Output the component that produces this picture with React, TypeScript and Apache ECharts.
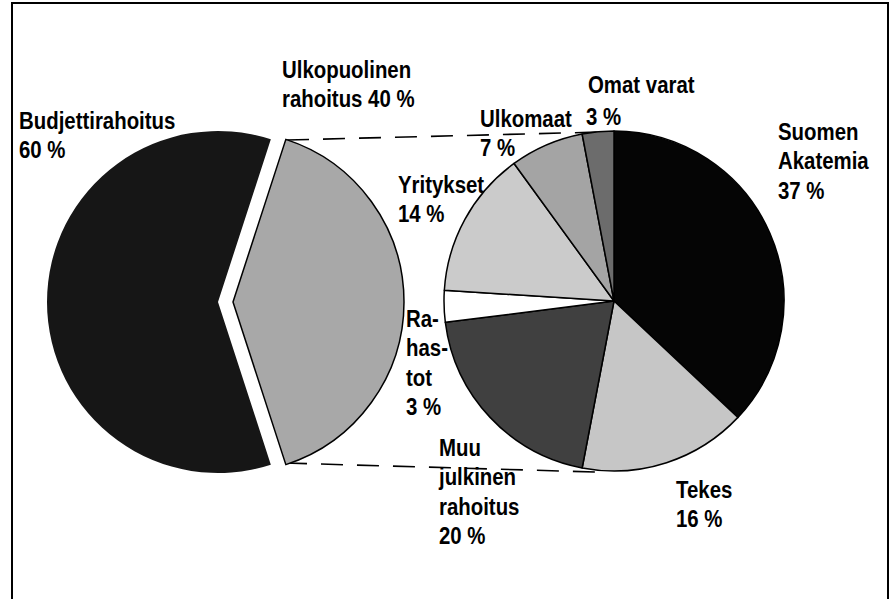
import React, { useEffect, useRef } from "react";
import * as echarts from "echarts";

// Left pie: budget vs external funding
const leftNames = ["Budjettirahoitus", "Ulkopuolinen rahoitus"];
const leftValues = [60, 40];
const leftColors = ["#161616", "#a8a8a8"];

// Right pie: breakdown of external funding (clockwise from 12 o'clock)
const rightNames = [
  "Suomen Akatemia",
  "Tekes",
  "Muu julkinen rahoitus",
  "Rahastot",
  "Yritykset",
  "Ulkomaat",
  "Omat varat",
];
const rightValues = [37, 16, 20, 3, 14, 7, 3];
const rightColors = ["#050505", "#c6c6c6", "#404040", "#ffffff", "#cbcbcb", "#a4a4a4", "#6c6c6c"];

// Label texts as printed (line breaks of the original)
const leftLabelNames = ["Budjettirahoitus\n", "Ulkopuolinen\nrahoitus "];
const rightLabelNames = [
  "Suomen\nAkatemia\n",
  "Tekes\n",
  "Muu\njulkinen\nrahoitus\n",
  "Ra-\nhas-\ntot\n",
  "Yritykset\n",
  "Ulkomaat\n",
  "Omat varat",
];

const FONT = "'Liberation Sans', Arial, sans-serif";
const FS = 24;
const LH = 29.5;
const CONDENSE = 0.85;

export default function App() {
  const ref = useRef<HTMLDivElement>(null);

  useEffect(() => {
    document.body.style.margin = "0";
    if (!ref.current) return;
    const chart = echarts.init(ref.current, undefined, { renderer: "svg" });

    const R_LEFT = 171;
    const R_RIGHT = 170;
    const leftY = 302;
    const rightC: [number, number] = [614, 301];

    const transparent = { color: "rgba(0,0,0,0)", borderWidth: 0 };

    const leftSeries = leftValues.map((_, idx) => ({
      type: "pie",
      center: [idx === 0 ? 218 : 233, leftY],
      radius: R_LEFT,
      startAngle: 288,
      clockwise: true,
      silent: true,
      label: { show: false },
      labelLine: { show: false },
      emphasis: { disabled: true },
      z: 2,
      data: leftValues.map((v, i) => ({
        name: leftNames[i],
        value: v,
        itemStyle:
          i === idx
            ? {
                color: leftColors[i],
                borderColor: "#000",
                borderWidth: i === 1 ? 1.5 : 0,
              }
            : transparent,
      })),
    }));

    const rightSeries = {
      type: "pie",
      center: rightC,
      radius: R_RIGHT,
      startAngle: 90,
      clockwise: true,
      silent: true,
      label: { show: false },
      labelLine: { show: false },
      emphasis: { disabled: true },
      z: 2,
      data: rightValues.map((v, i) => ({
        name: rightNames[i],
        value: v,
        itemStyle: { color: rightColors[i], borderColor: "#000", borderWidth: 1.5 },
      })),
    };

    // label placements: [x, first baseline]
    const leftPos: [number, number][] = [
      [19, 129],
      [282, 78],
    ];
    const rightPos: [number, number][] = [
      [778, 140],
      [676, 498],
      [439, 456],
      [406, 327],
      [398, 193],
      [480, 127],
      [588, 93],
    ];

    const mkText = (text: string, x: number, baseline: number) => ({
      type: "text",
      x,
      y: baseline - (LH / 2 + FS * 0.35),
      scaleX: CONDENSE,
      z: 10,
      style: {
        text,
        fontFamily: FONT,
        fontSize: FS,
        fontWeight: "bold",
        lineHeight: LH,
        fill: "#000",
        align: "left",
        verticalAlign: "top",
      },
    });

    const texts: any[] = [];
    leftValues.forEach((v, i) => {
      texts.push(mkText(leftLabelNames[i] + v + " %", leftPos[i][0], leftPos[i][1]));
    });
    rightValues.forEach((v, i) => {
      if (i === 6) {
        texts.push(mkText(rightLabelNames[i], rightPos[i][0], rightPos[i][1]));
        texts.push(mkText(v + " %", 586, 125));
      } else {
        texts.push(mkText(rightLabelNames[i] + v + " %", rightPos[i][0], rightPos[i][1]));
      }
    });

    const dash = { stroke: "#000", lineWidth: 1.6, lineDash: [22, 14] };

    chart.setOption({
      animation: false,
      backgroundColor: "#fff",
      series: [...leftSeries, rightSeries],
      graphic: [
        {
          type: "rect",
          z: 0,
          shape: { x: 12, y: 3, width: 876, height: 640 },
          style: { fill: "none", stroke: "#000", lineWidth: 2 },
        },
        {
          type: "line",
          z: 1,
          shape: { x1: 287, y1: 140, x2: 602, y2: 132 },
          style: dash,
        },
        {
          type: "line",
          z: 1,
          shape: { x1: 285, y1: 463, x2: 596, y2: 472 },
          style: dash,
        },
        ...texts,
      ],
    });

    return () => chart.dispose();
  }, []);

  return <div ref={ref} style={{ width: 891, height: 599 }} />;
}
